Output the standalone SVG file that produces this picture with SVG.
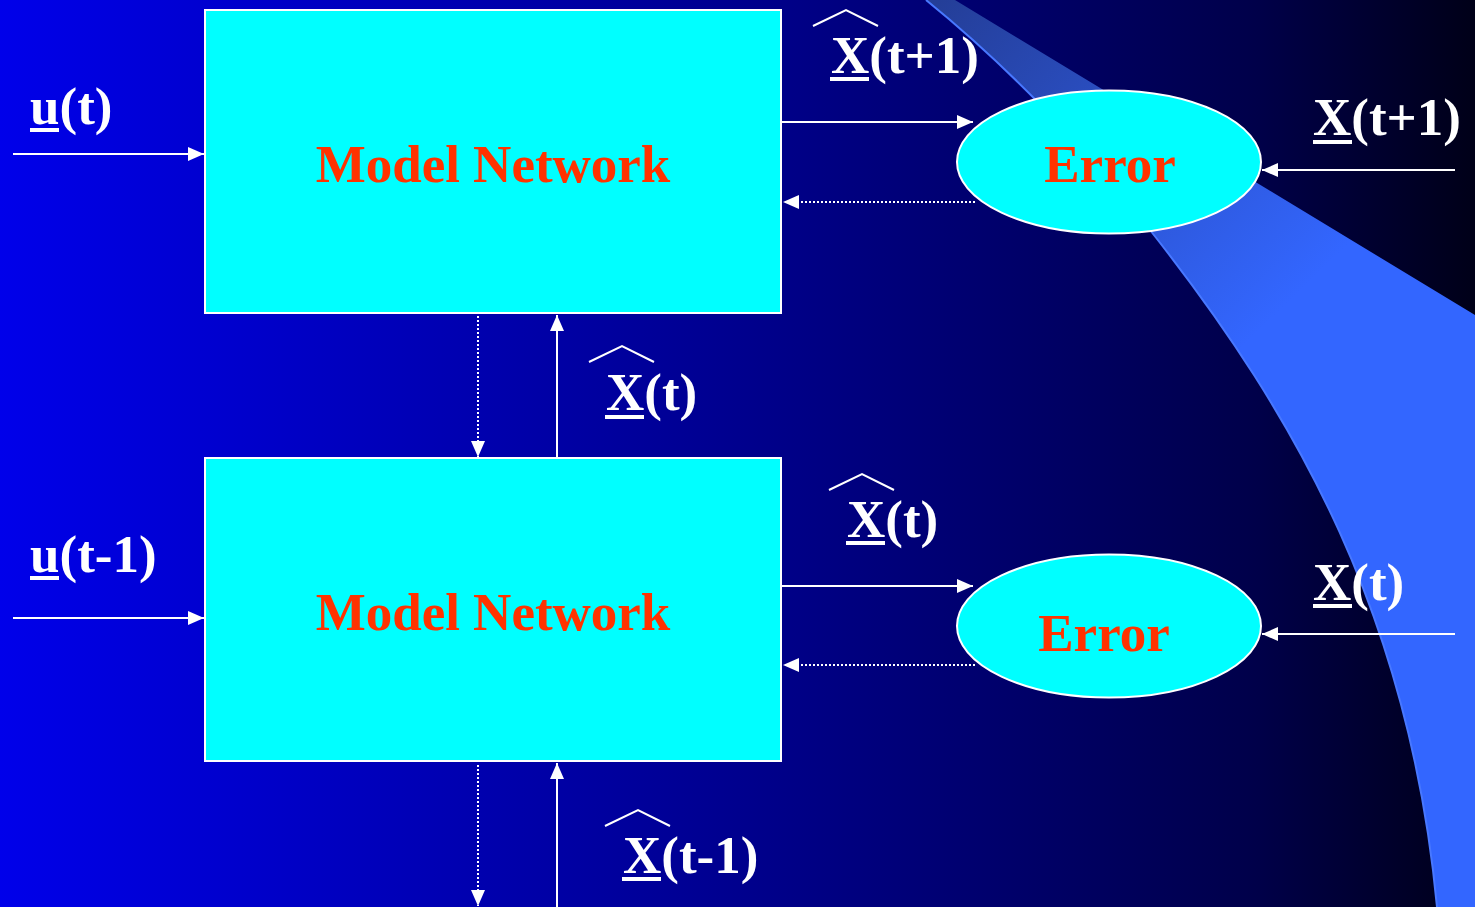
<svg xmlns="http://www.w3.org/2000/svg" width="1475" height="907" viewBox="0 0 1475 907">
<defs>
<linearGradient id="bg" x1="0" y1="0" x2="1" y2="0">
<stop offset="0" stop-color="#0000EA"/>
<stop offset="0.5" stop-color="#00008E"/>
<stop offset="0.85" stop-color="#00004A"/>
<stop offset="1" stop-color="#000018"/>
</linearGradient>
<linearGradient id="band" gradientUnits="userSpaceOnUse" x1="940" y1="0" x2="1260" y2="330">
<stop offset="0" stop-color="#243E98"/>
<stop offset="1" stop-color="#3366FF"/>
</linearGradient>
<marker id="ah" viewBox="0 0 16 14" refX="16" refY="7" markerWidth="16" markerHeight="14" markerUnits="userSpaceOnUse" orient="auto">
<path d="M0,0 L16,7 L0,14 Z" fill="#FFFFFF"/>
</marker>
<style>
.box{fill:#00FFFF;stroke:#FFFFFF;stroke-width:2}
.node-text{font-family:"Liberation Serif","Times New Roman",serif;font-weight:bold;font-size:53px;fill:#FF3300;text-anchor:middle}
.lbl{font-family:"Liberation Serif","Times New Roman",serif;font-weight:bold;font-size:53px;fill:#FFFFFF}
.ul{fill:#FFFFFF}
.hat{fill:none;stroke:#FFFFFF;stroke-width:2}
.solid{stroke:#FFFFFF;stroke-width:2;fill:none;marker-end:url(#ah)}
.dot{stroke:#FFFFFF;stroke-width:2;stroke-dasharray:2 2;fill:none;marker-end:url(#ah)}
</style>
</defs>
<rect x="0" y="0" width="1475" height="907" fill="url(#bg)"/>
<path d="M926,0 L955,0 L1475,315 L1475,907 L1437,907 C1410,620 1300,420 1150,230 C1080,140 1000,60 926,0 Z" fill="url(#band)"/>
<path d="M1437,907 C1410,620 1300,420 1150,230 C1080,140 1000,60 926,0" fill="none" stroke="#4878FF" stroke-width="2"/>

<g id="connectors">
<line class="solid" x1="13" y1="154" x2="204" y2="154"/>
<line class="solid" x1="13" y1="618" x2="204" y2="618"/>
<line class="solid" x1="782" y1="122" x2="973" y2="122"/>
<line class="dot" x1="975" y1="202" x2="783" y2="202"/>
<line class="solid" x1="1455" y1="170" x2="1262" y2="170"/>
<line class="solid" x1="782" y1="586" x2="973" y2="586"/>
<line class="dot" x1="975" y1="665" x2="783" y2="665"/>
<line class="solid" x1="1455" y1="634" x2="1262" y2="634"/>
<line class="dot" x1="478" y1="316" x2="478" y2="457"/>
<line class="solid" x1="557" y1="458" x2="557" y2="315"/>
<line class="dot" x1="478" y1="765" x2="478" y2="906"/>
<line class="solid" x1="557" y1="907" x2="557" y2="763"/>
</g>

<g id="model-top">
<rect class="box" x="205" y="10" width="576" height="303"/>
<text class="node-text" x="493" y="182">Model Network</text>
</g>
<g id="model-bottom">
<rect class="box" x="205" y="458" width="576" height="303"/>
<text class="node-text" x="493" y="630">Model Network</text>
</g>
<g id="error-top">
<ellipse class="box" cx="1109" cy="162" rx="152" ry="71.5"/>
<text class="node-text" x="1110" y="182">Error</text>
</g>
<g id="error-bottom">
<ellipse class="box" cx="1109" cy="626" rx="152" ry="71.5"/>
<text class="node-text" x="1104" y="651">Error</text>
</g>

<g id="labels">
<polyline class="hat" points="813,26 846,10 878,26"/>
<text class="lbl" x="831" y="73">X(t+1)</text>
<rect class="ul" x="830" y="77" width="39" height="4"/>

<text class="lbl" x="30" y="124">u(t)</text>
<rect class="ul" x="30" y="128" width="29" height="4"/>

<text class="lbl" x="1313" y="135">X(t+1)</text>
<rect class="ul" x="1313" y="140" width="39" height="4"/>

<polyline class="hat" points="589,362 622,346 654,362"/>
<text class="lbl" x="606" y="410">X(t)</text>
<rect class="ul" x="605" y="415" width="39" height="4"/>

<polyline class="hat" points="829,490 862,474 894,490"/>
<text class="lbl" x="847" y="537">X(t)</text>
<rect class="ul" x="846" y="541" width="39" height="4"/>

<text class="lbl" x="30" y="572">u(t-1)</text>
<rect class="ul" x="30" y="576" width="29" height="4"/>

<text class="lbl" x="1313" y="600">X(t)</text>
<rect class="ul" x="1313" y="604" width="39" height="4"/>

<polyline class="hat" points="605,826 638,810 670,826"/>
<text class="lbl" x="623" y="873">X(t-1)</text>
<rect class="ul" x="622" y="877" width="39" height="4"/>
</g>
</svg>
